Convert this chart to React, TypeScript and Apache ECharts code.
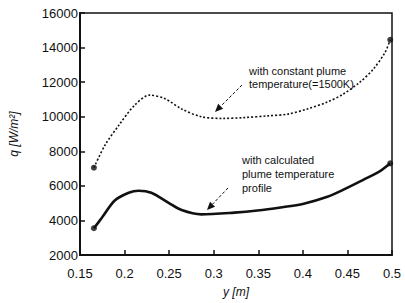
import React, { useEffect, useRef } from "react";
import * as echarts from "echarts";

const xTicks = ["0.15", "0.2", "0.25", "0.3", "0.35", "0.4", "0.45", "0.5"];
const yTicks = ["2000", "4000", "6000", "8000", "10000", "12000", "14000", "16000"];

const constY = [0.1656, 0.178, 0.1935, 0.211, 0.228, 0.245, 0.264, 0.286, 0.31, 0.334, 0.361, 0.383, 0.405, 0.4275, 0.445, 0.464, 0.479, 0.492, 0.498];
const constQ = [7050, 8350, 9500, 10650, 11250, 11050, 10450, 10000, 9900, 9950, 10050, 10150, 10450, 10850, 11300, 12000, 12750, 13700, 14450];

const calcY = [0.1656, 0.1745, 0.189, 0.2046, 0.2158, 0.23, 0.249, 0.264, 0.286, 0.323, 0.349, 0.375, 0.401, 0.4275, 0.445, 0.4677, 0.4866, 0.4955, 0.498];
const calcQ = [3550, 4150, 5150, 5600, 5720, 5600, 5030, 4600, 4350, 4450, 4570, 4750, 4970, 5370, 5770, 6350, 6850, 7200, 7300];

const constLabel = ["with constant plume", "temperature(=1500K)"];
const calcLabel = ["with calculated", "plume temperature", "profile"];

const FONT = "Liberation Sans, Arial, sans-serif";
const INK = "#111";

function pairs(xs: number[], ys: number[]) {
  return xs.map((x, i) => [x, ys[i]]);
}
function ends(xs: number[], ys: number[]) {
  return [
    [xs[0], ys[0]],
    [xs[xs.length - 1], ys[ys.length - 1]],
  ];
}

function arrow(x1: number, y1: number, x2: number, y2: number) {
  const ang = Math.atan2(y2 - y1, x2 - x1);
  const L = 8, W = 3.5;
  const bx = x2 - L * Math.cos(ang), by = y2 - L * Math.sin(ang);
  const px = -Math.sin(ang) * W, py = Math.cos(ang) * W;
  return [
    { type: "line", shape: { x1, y1, x2: bx, y2: by }, style: { stroke: INK, lineWidth: 1, lineDash: [3, 2] } },
    { type: "polygon", shape: { points: [[x2, y2], [bx + px, by + py], [bx - px, by - py]] }, style: { fill: INK } },
  ];
}

export default function App() {
  const ref = useRef<HTMLDivElement>(null);
  useEffect(() => {
    if (!ref.current) return;
    const chart = echarts.init(ref.current, null, { renderer: "svg" });
    const axisCommon = {
      axisLine: { lineStyle: { color: INK, width: 2 } },
      axisTick: { inside: true, length: 5, lineStyle: { color: INK, width: 1.5 } },
      splitLine: { show: false },
      axisLabel: { color: INK, fontFamily: FONT, fontSize: 13 },
    };
    chart.setOption({
      animation: false,
      backgroundColor: "#fff",
      grid: { left: 78, top: 13, right: 13, bottom: 45, show: true, borderColor: INK, borderWidth: 1.5 },
      xAxis: {
        type: "value",
        min: 0.15,
        max: 0.5,
        interval: 0.05,
        ...axisCommon,
        axisLabel: { ...axisCommon.axisLabel, margin: 12, formatter: (v: number) => xTicks[Math.round((v - 0.15) / 0.05)] ?? "" },
        name: "y [m]",
        nameLocation: "middle",
        nameGap: 31,
        nameTextStyle: { color: INK, fontFamily: FONT, fontSize: 12, fontStyle: "italic" },
      },
      yAxis: {
        type: "value",
        min: 2000,
        max: 16000,
        interval: 2000,
        ...axisCommon,
        axisLabel: { ...axisCommon.axisLabel, margin: 2, formatter: (v: number) => yTicks[Math.round((v - 2000) / 2000)] ?? "" },
        name: "q [W/m²]",
        nameLocation: "middle",
        nameGap: 60,
        nameRotate: 90,
        nameTextStyle: { color: INK, fontFamily: FONT, fontSize: 12, fontStyle: "italic" },
      },
      series: [
        {
          type: "line",
          smooth: 0.3,
          data: pairs(constY, constQ),
          symbol: "none",
          lineStyle: { color: INK, width: 1.6, type: [2, 2] },
        },
        {
          type: "line",
          smooth: 0.3,
          data: pairs(calcY, calcQ),
          symbol: "none",
          lineStyle: { color: INK, width: 2.6 },
        },
        {
          type: "scatter",
          data: [...ends(constY, constQ), ...ends(calcY, calcQ)],
          symbol: "circle",
          symbolSize: 6,
          itemStyle: { color: INK },
        },
      ],
      graphic: [
        ...constLabel.map((t, i) => ({
          type: "text",
          x: 249,
          y: 65 + i * 13,
          style: { text: t, fill: INK, font: `11px ${FONT}` },
        })),
        ...calcLabel.map((t, i) => ({
          type: "text",
          x: 242,
          y: 154 + i * 14,
          style: { text: t, fill: INK, font: `11px ${FONT}` },
        })),
        ...arrow(242, 85, 215, 112),
        ...arrow(228, 188, 207, 210),
      ],
    });
    return () => chart.dispose();
  }, []);
  return <div ref={ref} style={{ width: 405, height: 303, position: "absolute", left: 0, top: 0 }} />;
}
